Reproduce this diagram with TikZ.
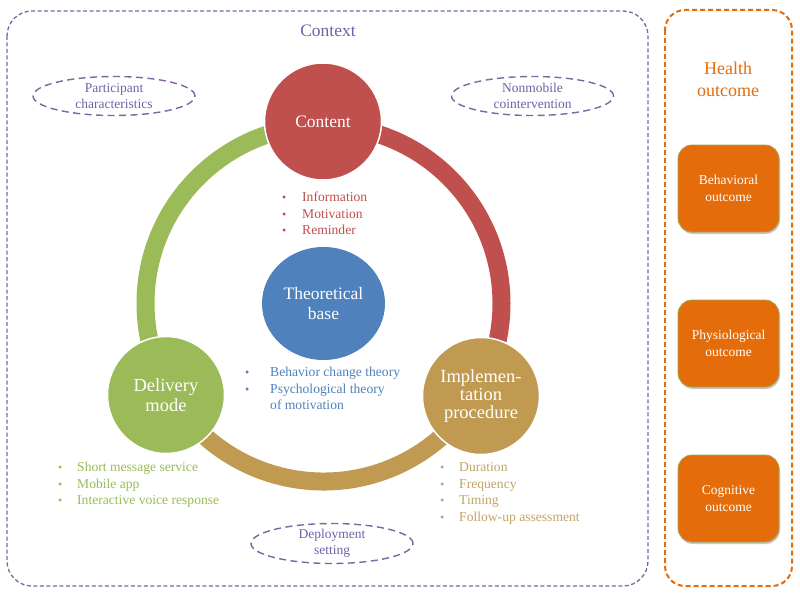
\documentclass[tikz,border=0pt]{standalone}
\usepackage{fontspec}
\setmainfont{Liberation Serif}
\usetikzlibrary{shapes.geometric,shadows}
\definecolor{cred}{HTML}{C0504D}
\definecolor{cgreen}{HTML}{9BBB59}
\definecolor{cgold}{HTML}{C19A52}
\definecolor{cgoldtxt}{HTML}{C4A468}
\definecolor{cblue}{HTML}{4F81BD}
\definecolor{cpurple}{HTML}{8064A2}
\definecolor{cpurpletxt}{HTML}{7460A6}
\definecolor{corange}{HTML}{E46C0A}
\definecolor{coutline}{HTML}{A8A24A}
\newcommand\bul{\makebox[4pt]{\fontsize{12}{12}\selectfont\textbullet}}
\begin{document}
\begin{tikzpicture}[x=1pt,y=-1pt,
  bigcircle/.style={circle, minimum size=117pt, inner sep=0pt, draw=white, line width=1.5pt, text=white, align=center, font=\fontsize{18.5}{20}\selectfont},
  ringseg/.style={line width=18pt},
  ctxell/.style={ellipse, draw=cpurple, dash pattern=on 7pt off 4.5pt, line width=1.4pt, minimum width=162pt, minimum height=39pt, inner sep=0pt, text=cpurpletxt, align=center, font=\fontsize{13.5}{16}\selectfont},
  outbox/.style={rectangle, rounded corners=14pt, minimum width=101pt, minimum height=87pt, fill=corange, draw=coutline, line width=0.8pt, text=white, align=center, font=\fontsize{13.5}{17}\selectfont, drop shadow={shadow xshift=1pt, shadow yshift=-2pt, opacity=0.3, fill=black!70}},
  listnode/.style={anchor=north west, inner sep=0pt, font=\fontsize{13.6}{16.5}\selectfont}
]
\useasboundingbox (0,0) rectangle (800,599);
\fill[white] (0,0) rectangle (800,599);

% frames
\draw[cpurple, line width=1.3pt, dash pattern=on 4pt off 2.5pt, rounded corners=25pt] (7,11) rectangle (648,586);
\draw[corange, line width=2pt, dash pattern=on 5pt off 3pt, rounded corners=20pt] (665,10) rectangle (792,586);

\node[text=cpurpletxt, font=\fontsize{17.5}{20}\selectfont] (ctx) at (328,31) {Context};
\node[text=corange, align=center, font=\fontsize{18}{22}\selectfont] (ho) at (728,79) {Health\\outcome};

% context ellipses
\node[ctxell] (pc) at (114,96) {Participant\\characteristics};
\node[ctxell] (nc) at (532.5,96) {Nonmobile\\cointervention};
\node[ctxell] (ds) at (332,543.5) {Deployment\\setting};

% ring
\coordinate (rc) at (323.5,303.5);
\draw[ringseg, cgreen] (rc) ++(-90:178) arc[start angle=-90, end angle=-210, radius=178];
\draw[ringseg, cred] (rc) ++(-90:178) arc[start angle=-90, end angle=30, radius=178];
\draw[ringseg, cgold] (rc) ++(150:178) arc[start angle=150, end angle=30, radius=178];

% circles
\node[bigcircle, fill=cred, font=\fontsize{17.5}{20}\selectfont] (cont) at (323,121.5) {Content};
\node[bigcircle, fill=cgreen] (dm) at (166,395) {Delivery\\mode};
\node[bigcircle, fill=cgold, font=\fontsize{18.5}{18.3}\selectfont] (ip) at (481,396) {Implemen-\\tation\\procedure};
\node[ellipse, minimum width=123pt, minimum height=113pt, inner sep=0pt, fill=cblue, text=white, align=center, font=\fontsize{17.5}{20}\selectfont] (tb) at (323.5,303.5) {Theoretical\\base};

% lists
\node[listnode, text=cred] (clist) at (282,190) {\begin{tabular}{@{}c@{\hspace{16pt}}l@{}}\bul & Information\\ \bul & Motivation\\ \bul & Reminder\end{tabular}};
\node[listnode, text=cblue] (tlist) at (245,365) {\begin{tabular}{@{}c@{\hspace{21pt}}l@{}}\bul & Behavior change theory\\ \bul & Psychological theory\\ & of motivation\end{tabular}};
\node[listnode, text=cgreen] (dlist) at (58,460) {\begin{tabular}{@{}c@{\hspace{15pt}}l@{}}\bul & Short message service\\ \bul & Mobile app\\ \bul & Interactive voice response\end{tabular}};
\node[listnode, text=cgoldtxt] (ilist) at (440,460) {\begin{tabular}{@{}c@{\hspace{15pt}}l@{}}\bul & Duration\\ \bul & Frequency\\ \bul & Timing\\ \bul & Follow-up assessment\end{tabular}};

% outcome boxes
\node[outbox] (bo) at (728.5,188.5) {Behavioral\\outcome};
\node[outbox] (po) at (728.5,343.5) {Physiological\\outcome};
\node[outbox] (co) at (728.5,498.5) {Cognitive\\outcome};
\end{tikzpicture}
\end{document}
